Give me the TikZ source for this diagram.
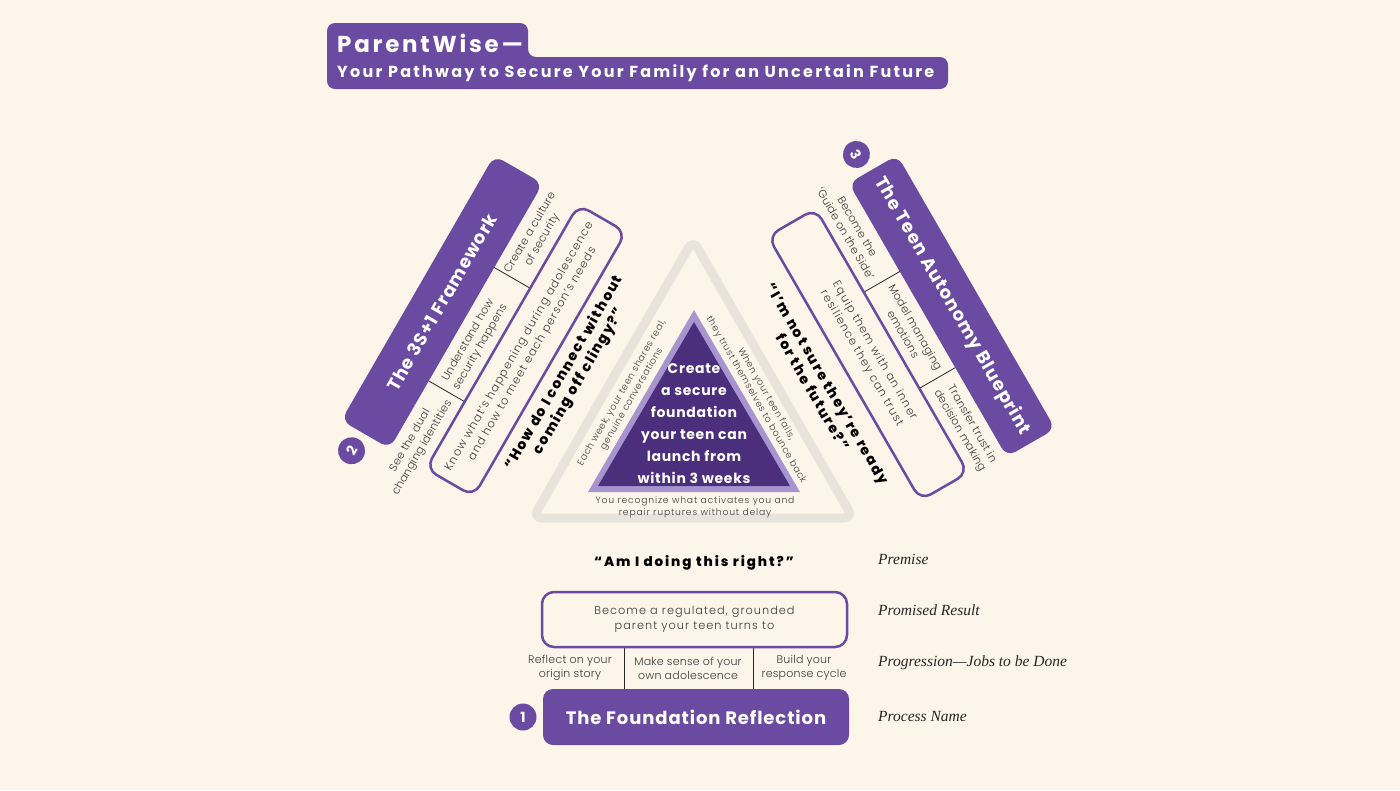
\documentclass[tikz,border=0pt]{standalone}
\usepackage{fontspec}
\setmainfont{Poppins}
\newfontfamily\titlef{Poppins}[LetterSpace=5]
\newfontfamily\headf{Poppins}[LetterSpace=12]
\newfontfamily\subf{Poppins}[LetterSpace=14]
\newfontfamily\quotef{Poppins ExtraBold}[LetterSpace=11]
\newfontfamily\quotew{Poppins ExtraBold}[LetterSpace=14]
\newfontfamily\lightf{Poppins Light}[LetterSpace=2]
\newfontfamily\lightt{Poppins Light}[LetterSpace=6]
\newfontfamily\lightw{Poppins Light}[LetterSpace=9]
\newfontfamily\handf{Liberation Serif}
\definecolor{bg}{HTML}{FDF5EA}
\definecolor{purp}{HTML}{6A4BA1}
\definecolor{dpurp}{HTML}{4B2F7C}
\definecolor{lpurp}{HTML}{A895CF}
\definecolor{gtri}{HTML}{E9E4DB}
\definecolor{txt}{HTML}{3A3A3A}
\tikzset{
  namebox/.style={fill=purp, rounded corners=10pt, minimum width=306pt, minimum height=56pt,
    text=white, inner sep=0pt, font=\titlef\bfseries\fontsize{18}{21}\selectfont},
  resbox/.style={draw=purp, line width=2.5pt, rounded corners=12pt, minimum width=305pt,
    minimum height=55pt, align=center, text=txt, inner sep=0pt,
    font=\lightw\fontsize{11.3}{15}\selectfont},
  jobtext/.style={align=center, text=txt, inner sep=0pt, font=\lightf\fontsize{11}{14}\selectfont},
  divline/.style={draw=black!85, line width=0.8pt},
  numcirc/.style={circle, fill=purp, minimum size=27pt, inner sep=0pt, text=white,
    font=\bfseries\fontsize{14}{16}\selectfont},
  bigquote/.style={align=center, text=black, inner sep=0pt, font=\quotef\fontsize{14}{17}\selectfont},
  smallquote/.style={align=center, text=black, inner sep=0pt, font=\quotew\fontsize{13.5}{15}\selectfont},
  handlabel/.style={anchor=west, text=black!85, inner sep=0pt, font=\handf\itshape\fontsize{15.5}{17}\selectfont},
  tritext/.style={align=center, text=txt, inner sep=0pt, font=\lightt\fontsize{9.3}{11.5}\selectfont},
}
\begin{document}
\begin{tikzpicture}[x=1pt,y=1pt]
\useasboundingbox (0,0) rectangle (1400,-790);
\fill[bg] (0,0) rectangle (1400,-790);

% ---------- title ----------
\fill[purp, rounded corners=8pt] (600,-89) -- (327,-89) -- (327,-23) -- (528,-23) -- (528,-57) -- (948,-57) -- (948,-89) -- cycle;
\node[anchor=west, text=white, inner sep=0pt, font=\headf\bfseries\fontsize{23}{25}\selectfont] (t1) at (337,-43) {ParentWise—};
\node[anchor=west, text=white, inner sep=0pt, font=\subf\bfseries\fontsize{16}{18}\selectfont] (t2) at (337,-73.5) {Your Pathway to Secure Your Family for an Uncertain Future};

% ---------- central triangle ----------
\draw[gtri, line width=9pt, line join=round, rounded corners=9pt] (613,-378) -- (693,-240) -- (853,-518) -- (533,-518) -- cycle;
\fill[lpurp] (694,-310) -- (800,-492) -- (588,-492) -- cycle;
\fill[dpurp] (694,-322) -- (790,-486) -- (598,-486) -- cycle;
\node[align=center, text=white, inner sep=0pt, font=\titlef\bfseries\fontsize{14}{22}\selectfont] (core) at (694,-424)
  {Create\\a secure\\foundation\\your teen can\\launch from\\within 3 weeks};
\node[tritext, rotate=60] (sideL) at (627,-396) {Each week, your teen shares real,\\genuine conversations};
\node[tritext, rotate=-60] (sideR) at (761,-397) {When your teen fails,\\they trust themselves to bounce back};
\node[tritext, font=\lightw\fontsize{9.2}{12}\selectfont] (sideB) at (695,-507) {You recognize what activates you and\\repair ruptures without delay};

% ---------- group 1 (bottom) ----------
\begin{scope}[shift={(696,-717)}]
  \node[namebox] (b1) at (0,0) {The Foundation Reflection};
  \node[numcirc] (n1) at (-173,0) {1};
  \draw[divline] (-72,28) -- (-72,69);
  \draw[divline] (57,28) -- (57,69);
  \node[jobtext] (j11) at (-126,49) {Reflect on your\\origin story};
  \node[jobtext] (j12) at (-8,49) {Make sense of your\\own adolescence};
  \node[jobtext] (j13) at (108,49) {Build your\\response cycle};
  \node[resbox] (r1) at (-1.5,97.5) {Become a regulated, grounded\\parent your teen turns to};
  \node[smallquote] (q1) at (-2,154) {“Am I doing this right?”};
\end{scope}

% ---------- group 2 (left) ----------
\begin{scope}[shift={(442,-302)}, rotate=60, every node/.append style={transform shape}]
  \node[namebox] (b2) at (0,0) {The 3S+1 Framework};
  \node[numcirc] (n2) at (-174,4) {2};
  \draw[divline] (-75,-28) -- (-75,-69);
  \draw[divline] (56,-28) -- (56,-69);
  \node[jobtext] (j21) at (-136,-49) {See the dual\\changing identities};
  \node[jobtext] (j22) at (-20,-49) {Understand how\\security happens};
  \node[jobtext] (j23) at (104,-49) {Create a culture\\of security};
  \node[resbox] (r2) at (0,-97) {Know what’s happening during adolescence\\and how to meet each person’s needs};
  \node[bigquote] (q2) at (0,-150) {“How do I connect without\\coming off clingy?”};
\end{scope}

% ---------- group 3 (right) ----------
\begin{scope}[shift={(952,-306)}, rotate=-60, every node/.append style={transform shape}]
  \node[namebox, minimum width=316pt] (b3) at (0,0) {The Teen Autonomy Blueprint};
  \node[numcirc] (n3) at (-179,-7) {3};
  \draw[divline] (-56,-28) -- (-56,-69);
  \draw[divline] (55,-28) -- (55,-69);
  \node[jobtext] (j31) at (-116,-49) {Become the\\‘Guide on the Side’};
  \node[jobtext] (j32) at (0,-49) {Model managing\\emotions};
  \node[jobtext] (j33) at (112,-49) {Transfer trust in\\decision making};
  \node[resbox] (r3) at (0,-97) {Equip them with an inner\\resilience they can trust};
  \node[bigquote] (q3) at (5,-155) {“I’m not sure they’re ready\\for the future?”};
\end{scope}

% ---------- side labels ----------
\node[handlabel] (l1) at (878,-559) {Premise};
\node[handlabel] (l2) at (878,-610) {Promised Result};
\node[handlabel] (l3) at (878,-663) {Progression—Jobs to be Done};
\node[handlabel] (l4) at (878,-716) {Process Name};
\end{tikzpicture}
\end{document}
